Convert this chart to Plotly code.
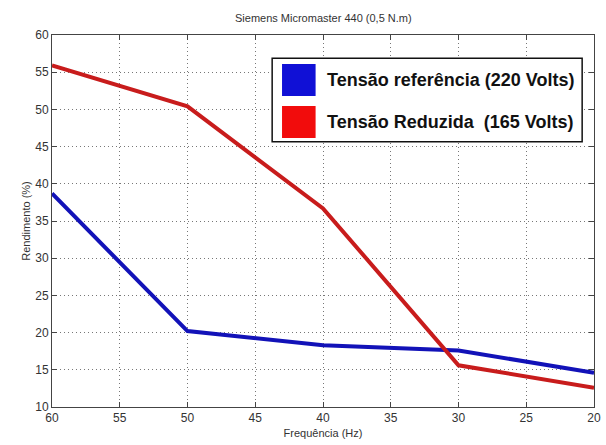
import plotly.graph_objects as go

# Efficiency (%) vs. frequency (Hz) at 0.5 N.m load
freq_hz = [60, 50, 40, 30, 20]
rend_ref_220v = [38.7, 20.2, 18.3, 17.6, 14.6]
rend_red_165v = [55.9, 50.4, 36.7, 15.6, 12.6]

series_names = ["Tensão referência (220 Volts)", "Tensão Reduzida  (165 Volts)"]
line_colors = ["#1212b8", "#c81c1c"]
key_colors = ["#1010d6", "#f20c0c"]

W, H = 606, 445
ML, MR, MT, MB = 52, 5, 35, 38
PW, PH = W - ML - MR, H - MT - MB


def px_x(x):
    return (x - ML) / PW


def px_y(y):
    return (H - MB - y) / PH


fig = go.Figure()
for vals, name, col in zip([rend_ref_220v, rend_red_165v], series_names, line_colors):
    fig.add_trace(go.Scatter(
        x=freq_hz, y=vals, mode="lines", name=name,
        line=dict(color=col, width=4), showlegend=False,
    ))

axis_common = dict(
    showline=True, linecolor="#444444", linewidth=1, mirror="ticks",
    ticks="inside", ticklen=5, tickcolor="#444444",
    showgrid=True, gridcolor="#777777", gridwidth=1, griddash="1px,3px",
    zeroline=False, ticklabeloverflow="allow",
    tickfont=dict(family="Liberation Sans", size=12, color="#333333"),
)

fig.update_xaxes(range=[60, 20], dtick=5, tick0=20,
                 title=dict(text="Frequência (Hz)", standoff=4,
                            font=dict(family="Liberation Sans", size=11, color="#333333")),
                 **axis_common)
fig.update_yaxes(range=[10, 60], dtick=5,
                 title=dict(text="Rendimento (%)", standoff=2,
                            font=dict(family="Liberation Sans", size=11, color="#333333")),
                 **axis_common)

# Key box drawn in the upper right of the plot
shapes = [dict(type="rect", xref="paper", yref="paper",
               x0=px_x(275), x1=px_x(589), y0=px_y(141.7), y1=px_y(58.3),
               line=dict(color="#111111", width=1.5), fillcolor="white", layer="above")]
annotations = []
for i, (name, col) in enumerate(zip(series_names, key_colors)):
    top = 64 + i * 42
    shapes.append(dict(type="rect", xref="paper", yref="paper",
                       x0=px_x(285), x1=px_x(319), y0=px_y(top + 32), y1=px_y(top),
                       line=dict(width=0), fillcolor=col, layer="above"))
    annotations.append(dict(xref="paper", yref="paper", x=px_x(329), y=px_y(top + 16),
                            xanchor="left", yanchor="middle", showarrow=False,
                            text="<b>%s</b>" % name,
                            font=dict(family="Liberation Sans", size=18, color="#111111")))

annotations.append(dict(xref="paper", yref="paper", x=0.5, y=px_y(18),
                        xanchor="center", yanchor="middle", showarrow=False,
                        text="Siemens Micromaster 440 (0,5 N.m)",
                        font=dict(family="Liberation Sans", size=11, color="#333333")))

fig.update_layout(
    width=W, height=H,
    margin=dict(l=ML, r=MR, t=MT, b=MB),
    paper_bgcolor="white", plot_bgcolor="white",
    shapes=shapes, annotations=annotations,
    showlegend=False,
)

fig.write_html("out.html")
